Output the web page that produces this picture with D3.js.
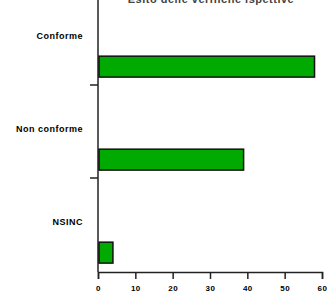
<!DOCTYPE html>
<html>
<head>
<meta charset="utf-8">
<script src="https://cdn.jsdelivr.net/npm/d3@7"></script>
<style>
  body { margin: 0; background: #fff; }
  svg text { font-family: "Liberation Sans", Arial, sans-serif; font-weight: bold; }
</style>
</head>
<body>
<svg id="chart" width="328" height="296"></svg>
<script>
// data
const categories = ["Conforme", "Non conforme", "NSINC"];
const values = [58, 39, 4];
const xTicks = [0, 10, 20, 30, 40, 50, 60];
const title = "Esito delle verifiche ispettive";

let svg = d3.select("#chart");
let padLeft = 98, padRight = 322, padTop = -8, padBottom = 272;

let x = d3.scaleLinear().domain([0, 60]).range([padLeft, padRight]);
let y = d3.scaleBand().domain(categories).range([padTop, padBottom - 1]);
let bw = y.bandwidth();

// title, mostly cut off at the top (as in the original)
svg.append("text")
  .attr("x", 211).attr("y", 3)
  .attr("text-anchor", "middle")
  .attr("font-size", 11)
  .attr("letter-spacing", 0.5)
  .attr("fill", "#444")
  .text(title);

// x axis
let xAxis = d3.axisBottom(x).tickValues(xTicks).tickSize(7).tickPadding(6);
let gx = svg.append("g")
  .attr("transform", "translate(0," + padBottom + ")")
  .call(xAxis);
gx.select(".domain").attr("stroke", "#222").attr("stroke-width", 1.5);
gx.selectAll(".tick line").attr("stroke", "#222").attr("stroke-width", 1.5);
gx.selectAll(".tick text").attr("font-size", 8).attr("letter-spacing", 0.5).attr("fill", "#000");

// y axis line + category boundary ticks
svg.append("line")
  .attr("x1", padLeft).attr("x2", padLeft)
  .attr("y1", 0).attr("y2", padBottom)
  .attr("stroke", "#222").attr("stroke-width", 1.5);

svg.selectAll(".ytick")
  .data(categories.slice(0, categories.length - 1))
  .enter().append("line")
  .attr("x1", padLeft - 8).attr("x2", padLeft)
  .attr("y1", d => y(d) + bw).attr("y2", d => y(d) + bw)
  .attr("stroke", "#222").attr("stroke-width", 1.5);

// category labels
svg.selectAll(".ylab")
  .data(categories)
  .enter().append("text")
  .attr("x", 83)
  .attr("y", d => y(d) + bw * 0.5)
  .attr("text-anchor", "end")
  .attr("font-size", 9)
  .attr("letter-spacing", 0.5)
  .text(d => d);

// bars
svg.selectAll(".bar")
  .data(values)
  .enter().append("rect")
  .attr("x", x(0) + 1)
  .attr("y", (d, i) => y(categories[i]) + bw * 0.69)
  .attr("width", d => x(d) - x(0) - 1)
  .attr("height", bw * 0.225)
  .attr("fill", "#00aa00")
  .attr("stroke", "#111")
  .attr("stroke-width", 1.5);
</script>
</body>
</html>
